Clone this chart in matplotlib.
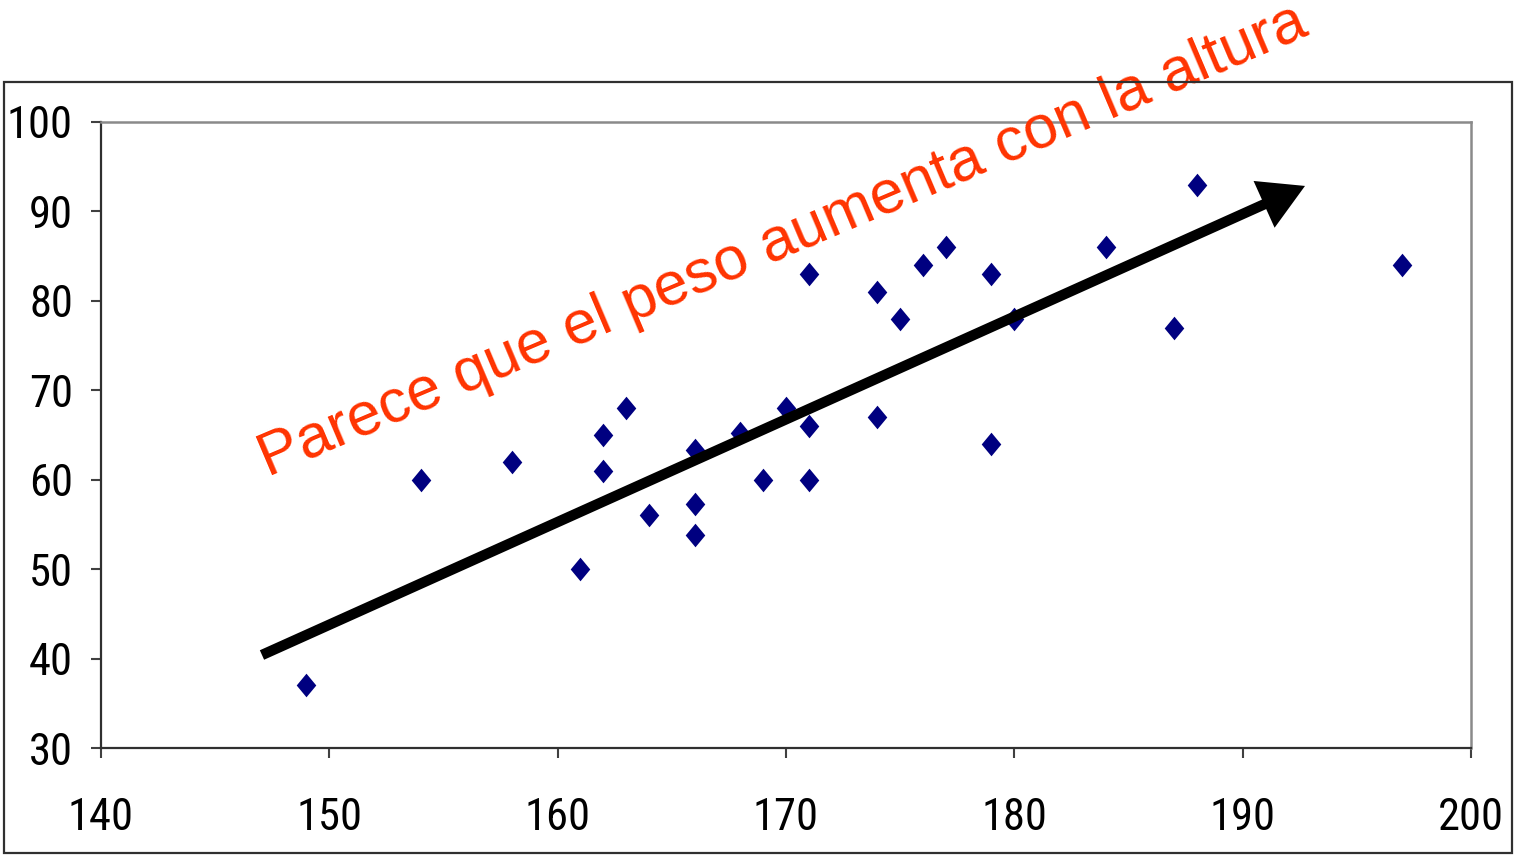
import matplotlib
matplotlib.use("Agg")
import matplotlib.pyplot as plt
from matplotlib.path import Path
from matplotlib.patches import Rectangle
from matplotlib import font_manager as fm

# Data
altura = [149, 154, 158, 161, 162, 162, 163, 164, 166, 166, 166, 168, 169, 170,
          171, 171, 171, 174, 174, 175, 176, 177, 179, 179, 180, 184, 187, 188, 197]
peso = [37, 60, 62, 50, 65, 61, 68, 56, 63.3, 57.3, 53.8, 65.2, 60, 68,
        66, 60, 83, 81, 67, 78, 84, 86, 83, 64, 78, 86, 77, 93, 84]
x_ticks = [140, 150, 160, 170, 180, 190, 200]
y_ticks = [30, 40, 50, 60, 70, 80, 90, 100]
arrow_start = (147.05, 40.4)
arrow_end = (192.73, 92.85)
texto = "Parece que el peso aumenta con la altura"

available = {f.name for f in fm.fontManager.ttflist}
narrow = next((f for f in ("Liberation Sans Narrow", "Arial Narrow", "Roboto Condensed",
                           "Archivo Narrow") if f in available), "Liberation Sans")

W, H = 1514, 855
fig = plt.figure(figsize=(W / 100, H / 100), dpi=100)
ax = fig.add_axes([101 / W, 1 - 748 / H, 1370 / W, 626 / H])

diamond = Path([(0, 1), (0.83, 0), (0, -1), (-0.83, 0), (0, 1)],
               [Path.MOVETO, Path.LINETO, Path.LINETO, Path.LINETO, Path.CLOSEPOLY])
ax.plot(altura, peso, linestyle="none", marker=diamond, markersize=17,
        color="#000080", markeredgewidth=0, clip_on=False, zorder=3)

ax.set_xlim(140, 200)
ax.set_ylim(30, 100)
ax.set_xticks(x_ticks)
ax.set_yticks(y_ticks)

tick_font = dict(family=[narrow, "DejaVu Sans"], size=32)
ax.set_xticklabels([str(v) for v in x_ticks], fontdict=tick_font)
ax.set_yticklabels([str(v) for v in y_ticks], fontdict=tick_font)
ax.tick_params(axis="both", direction="out", length=7.2, width=1.5, color="#404040")
ax.tick_params(axis="y", pad=13)
ax.tick_params(axis="x", pad=28)

for side in ("left", "bottom"):
    ax.spines[side].set_color("#303030")
    ax.spines[side].set_linewidth(1.6)
for side in ("top", "right"):
    ax.spines[side].set_color("#8a8a8a")
    ax.spines[side].set_linewidth(1.8)

ax.annotate("", xy=arrow_end, xytext=arrow_start,
            arrowprops=dict(arrowstyle="-|>,head_length=1.05,head_width=0.6",
                            mutation_scale=20, lw=7.5, color="black",
                            shrinkA=0, shrinkB=0, joinstyle="miter", capstyle="butt"),
            annotation_clip=False, zorder=4)

ax.text(147.3, 60.3, texto, rotation=23, rotation_mode="anchor",
        ha="left", va="baseline", color="#FF3300",
        family=["Liberation Sans", "DejaVu Sans"], size=44, clip_on=False, zorder=5)

fig.add_artist(Rectangle((4 / W, 2 / H), 1508 / W, 771 / H, transform=fig.transFigure,
                         fill=False, edgecolor="#303030", linewidth=1.6))

fig.savefig("out.png", dpi=100)
